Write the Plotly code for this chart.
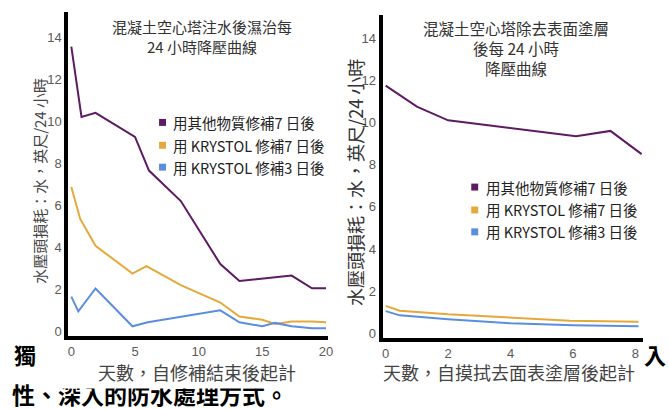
import plotly.graph_objects as go

W, H = 669, 409

# ---------------- data ----------------
series_names = ["用其他物質修補7 日後", "用 KRYSTOL 修補7 日後", "用 KRYSTOL 修補3 日後"]
series_colors = ["#5e1a62", "#e5a93b", "#5b8ede"]

# left chart: days after repair finished
left_other_x = [0, 0.8, 1.9, 5.0, 6.1, 8.6, 11.7, 13.2, 17.3, 18.9, 20]
left_other_y = [13.55, 10.2, 10.4, 9.25, 7.65, 6.2, 3.2, 2.4, 2.65, 2.05, 2.05]
left_k7_x = [0, 0.7, 1.9, 4.8, 5.9, 8.6, 11.7, 13.2, 15, 16, 17.3, 18.9, 20]
left_k7_y = [6.87, 5.35, 4.07, 2.75, 3.1, 2.2, 1.37, 0.7, 0.55, 0.35, 0.47, 0.47, 0.43]
left_k3_x = [0, 0.55, 1.9, 4.8, 6, 11.7, 13.2, 15, 16, 17.3, 18.9, 20]
left_k3_y = [1.65, 0.95, 2.04, 0.24, 0.43, 1.0, 0.43, 0.24, 0.4, 0.24, 0.14, 0.14]

# right chart: days after surface coating removed
right_other_x = [0, 1, 2, 6.1, 7.2, 8.2]
right_other_y = [11.75, 10.75, 10.1, 9.35, 9.6, 8.5]
right_k7_x = [0, 0.45, 2, 4, 5.9, 8.1]
right_k7_y = [1.3, 1.07, 0.9, 0.75, 0.6, 0.55]
right_k3_x = [0, 0.45, 2, 4, 6, 8.1]
right_k3_y = [1.05, 0.85, 0.67, 0.47, 0.38, 0.33]

left_xticks = [0, 5, 10, 15, 20]
right_xticks = [0, 2, 4, 6, 8]
yticks = [0, 2, 4, 6, 8, 10, 12, 14]

left_title = "混凝土空心塔注水後濕治每<br>24 小時降壓曲線"
right_title = "混凝土空心塔除去表面塗層<br>後每 24 小時<br>降壓曲線"
y_title = "水壓頭損耗：水，英尺/24 小時"
left_xtitle = "天數，自修補結束後起計"
right_xtitle = "天數，自摸拭去面表塗層後起計"

FONT = "Liberation Sans, Arial, Noto Sans CJK TC, sans-serif"
CJK = "Noto Sans CJK TC, Liberation Sans, sans-serif"


def px(x):
    return x / W


def py(y):
    return 1 - y / H


fig = go.Figure()

left_series = [(left_other_x, left_other_y), (left_k7_x, left_k7_y), (left_k3_x, left_k3_y)]
right_series = [(right_other_x, right_other_y), (right_k7_x, right_k7_y), (right_k3_x, right_k3_y)]

for (xs, ys), name, col in zip(left_series, series_names, series_colors):
    fig.add_trace(go.Scatter(x=xs, y=ys, mode="lines", name=name, showlegend=False,
                             line=dict(color=col, width=2), xaxis="x", yaxis="y"))
for (xs, ys), name, col in zip(right_series, series_names, series_colors):
    fig.add_trace(go.Scatter(x=xs, y=ys, mode="lines", name=name, showlegend=False,
                             line=dict(color=col, width=2), xaxis="x2", yaxis="y2"))

axis_common = dict(showline=True, linewidth=4, linecolor="black", showgrid=False,
                   zeroline=False, ticks="", tickfont=dict(family=FONT, size=13, color="#5a5a5a"),
                   fixedrange=True)

fig.update_layout(
    width=W, height=H,
    margin=dict(l=0, r=0, t=0, b=0),
    paper_bgcolor="white", plot_bgcolor="white",
    showlegend=False,
    xaxis=dict(domain=[px(68), px(330)], range=[-0.23, 20.16], tickvals=left_xticks,
               anchor="y", **axis_common),
    yaxis=dict(domain=[py(338), py(12)], range=[-0.24, 15.2], tickvals=yticks,
               anchor="x", **axis_common),
    xaxis2=dict(domain=[px(385), px(648)], range=[-0.1, 8.25], tickvals=right_xticks,
                anchor="y2", **axis_common),
    yaxis2=dict(domain=[py(340), py(15)], range=[-0.24, 15.1], tickvals=yticks,
                anchor="x2", **axis_common),
)

ann = []
shapes = []

# background document text fragments peeking around the chart (drawn first)
ann.append(dict(text="<b>獨</b>", x=px(11), y=py(356), xref="paper", yref="paper",
                showarrow=False, font=dict(family=CJK, size=22, color="black"),
                xanchor="left", yanchor="middle"))
ann.append(dict(text="<b>性、深入的防水處理方式。</b>", x=px(9), y=py(396), xref="paper", yref="paper",
                showarrow=False, font=dict(family=CJK, size=23, color="black"),
                xanchor="left", yanchor="middle"))
ann.append(dict(text="<b>入</b>", x=px(647), y=py(356), xref="paper", yref="paper",
                showarrow=False, font=dict(family=CJK, size=22, color="black"),
                xanchor="left", yanchor="middle"))
# white cover (the chart image overlapping the page text)
ann.append(dict(text=" ", x=px(34), y=py(391), xref="paper", yref="paper", showarrow=False,
                xanchor="left", yanchor="bottom", width=276, height=14, bgcolor="white",
                borderpad=0, font=dict(size=4)))

# titles
ann.append(dict(text=left_title, x=px(203), y=py(37), xref="paper", yref="paper",
                showarrow=False, font=dict(family=CJK, size=15, color="#333333"),
                xanchor="center", yanchor="middle", align="center"))
ann.append(dict(text=right_title, x=px(520), y=py(48), xref="paper", yref="paper",
                showarrow=False, font=dict(family=CJK, size=15.5, color="#333333"),
                xanchor="center", yanchor="middle", align="center"))

# y axis titles
ann.append(dict(text=y_title, x=px(38), y=py(182), xref="paper", yref="paper", textangle=-90,
                showarrow=False, font=dict(family=CJK, size=15, color="#444444"),
                xanchor="center", yanchor="middle"))
ann.append(dict(text=y_title, x=px(357), y=py(183), xref="paper", yref="paper", textangle=-90,
                showarrow=False, font=dict(family=CJK, size=18, color="#333333"),
                xanchor="center", yanchor="middle"))

# x axis titles
ann.append(dict(text=left_xtitle, x=px(198), y=py(374), xref="paper", yref="paper",
                showarrow=False, font=dict(family=CJK, size=18, color="#444444"),
                xanchor="center", yanchor="middle"))
ann.append(dict(text=right_xtitle, x=px(513), y=py(374), xref="paper", yref="paper",
                showarrow=False, font=dict(family=CJK, size=18, color="#444444"),
                xanchor="center", yanchor="middle"))

# legends
legend_pos = [(163, [123, 146, 168]), (478, [188, 211, 233])]
for lx, rows in legend_pos:
    for name, col, ry in zip(series_names, series_colors, rows):
        shapes.append(dict(type="rect", xref="paper", yref="paper",
                           x0=px(lx - 3.5), x1=px(lx + 3.5), y0=py(ry + 3.5), y1=py(ry - 3.5),
                           fillcolor=col, line=dict(width=0)))
        ann.append(dict(text=name, x=px(lx + 9), y=py(ry), xref="paper", yref="paper",
                        showarrow=False, font=dict(family=CJK, size=14.5, color="#222222"),
                        xanchor="left", yanchor="middle"))

fig.update_layout(annotations=ann, shapes=shapes)

fig.write_html("out.html", config={"displayModeBar": False},
               post_script="document.body.style.margin='0';document.body.style.overflow='hidden';")
